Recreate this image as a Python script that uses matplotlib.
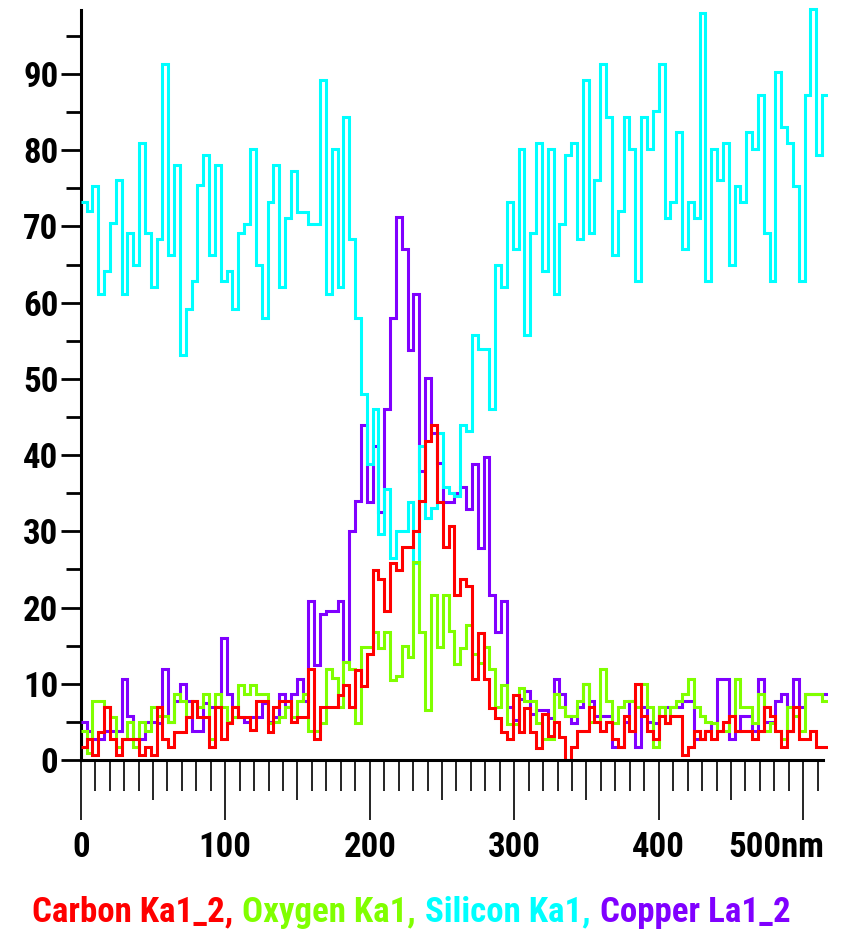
import numpy as np
import matplotlib
matplotlib.use("Agg")
import matplotlib.pyplot as plt
from matplotlib import font_manager
from matplotlib.font_manager import FontProperties
from matplotlib.transforms import ScaledTranslation

# ---------------- data (counts per 4.04 nm bin) ----------------
bin_nm = 4.04
carbon = [1.7, 2.8, 0.7, 3.7, 7.0, 2.8, 0.7, 2.8, 2.8, 2.8, 0.7, 1.7, 0.7, 7.0, 2.8, 1.7,
          3.7, 3.7, 5.7, 7.8, 5.7, 5.7, 1.7, 7.0, 2.8, 4.8, 7.0, 5.7, 5.7, 3.9, 7.8, 7.8,
          3.7, 7.0, 7.8, 7.8, 5.0, 5.7, 5.7, 11.9, 2.8, 7.0, 7.0, 7.0, 8.5, 9.8, 7.0, 11.8,
          9.7, 13.9, 24.9, 23.7, 19.6, 25.8, 24.9, 27.9, 27.9, 30.1, 34.0, 41.8, 44.0, 33.8, 27.9, 30.7,
          21.6, 23.7, 22.8, 10.6, 16.7, 10.6, 6.8, 5.5, 3.7, 2.7, 8.5, 3.7, 6.8, 3.7, 1.6, 6.0,
          3.2, 5.0, 3.0, 0.0, 1.7, 3.8, 3.8, 7.0, 5.0, 3.8, 5.0, 2.8, 1.7, 5.8, 3.8, 10.0,
          5.8, 3.8, 2.8, 5.8, 4.8, 5.8, 5.8, 0.7, 1.7, 3.8, 2.8, 3.8, 2.8, 3.8, 5.0, 5.8,
          3.8, 3.8, 3.8, 2.8, 3.8, 7.0, 5.8, 3.8, 1.7, 3.8, 7.0, 2.8, 2.8, 3.8, 1.7, 1.7]
oxygen = [3.8, 0.9, 7.8, 7.8, 7.0, 5.7, 1.7, 2.8, 5.0, 1.7, 5.0, 3.8, 7.0, 5.8, 5.8, 5.0,
          8.7, 7.8, 5.7, 7.8, 7.0, 8.7, 2.8, 8.7, 7.0, 5.0, 5.7, 9.8, 8.7, 9.8, 8.7, 8.7,
          4.8, 5.0, 5.7, 7.0, 5.7, 7.8, 8.7, 3.8, 3.8, 4.8, 11.9, 10.7, 7.0, 12.8, 12.0, 4.8,
          14.8, 14.8, 16.8, 14.7, 16.8, 10.5, 11.0, 15.0, 13.5, 26.0, 16.8, 6.5, 21.7, 14.8, 21.7, 16.9,
          12.6, 14.7, 17.7, 13.9, 12.7, 14.8, 12.0, 7.0, 9.8, 4.7, 4.7, 9.5, 7.8, 7.8, 4.8, 2.8,
          2.8, 8.7, 7.0, 5.8, 5.8, 7.8, 10.0, 5.0, 5.0, 11.9, 7.8, 4.8, 7.0, 7.8, 7.8, 7.0,
          10.0, 7.0, 1.7, 7.0, 4.8, 7.0, 7.8, 8.7, 10.6, 7.0, 5.8, 5.0, 4.8, 3.8, 3.8, 5.8,
          10.6, 7.0, 7.0, 4.8, 8.7, 3.8, 4.8, 3.8, 2.8, 7.0, 5.8, 3.8, 8.7, 8.7, 8.7, 7.8]
silicon = [73.2, 72.0, 75.3, 61.1, 64.2, 70.4, 76.1, 61.1, 69.1, 65.0, 81.0, 69.1, 62.1, 68.3, 91.3, 66.2,
           78.1, 53.1, 59.2, 62.9, 75.4, 79.4, 66.2, 78.1, 62.9, 64.2, 59.2, 69.1, 70.3, 80.2, 64.9, 58.0,
           73.2, 78.1, 62.1, 71.1, 77.3, 71.9, 71.9, 70.3, 70.3, 89.2, 61.1, 80.2, 62.1, 84.3, 68.3, 58.0,
           48.0, 38.9, 46.1, 29.7, 35.6, 26.5, 30.1, 30.1, 33.8, 25.8, 41.2, 31.7, 33.0, 42.9, 35.8, 35.0,
           34.6, 44.0, 43.1, 55.7, 53.9, 53.9, 46.1, 65.0, 62.1, 73.2, 67.0, 80.2, 55.7, 69.1, 81.0, 64.2,
           80.2, 61.1, 70.3, 79.4, 81.0, 68.3, 89.2, 69.1, 76.1, 91.3, 84.3, 66.2, 72.0, 84.3, 80.2, 62.9,
           84.3, 80.2, 85.2, 91.3, 71.1, 73.2, 82.4, 67.0, 73.2, 71.1, 98.0, 62.9, 80.2, 76.1, 81.0, 65.0,
           75.3, 73.2, 82.4, 80.2, 87.3, 69.1, 62.9, 90.2, 83.1, 81.0, 75.3, 62.9, 87.3, 98.5, 79.4, 87.3]
copper = [5.0, 3.8, 2.8, 2.8, 3.8, 3.8, 3.8, 10.6, 5.8, 2.8, 2.8, 5.0, 5.0, 4.8, 11.9, 5.0,
          7.8, 10.0, 7.8, 3.8, 3.8, 7.5, 7.0, 7.0, 16.0, 8.7, 7.0, 5.7, 5.0, 5.7, 5.7, 7.5,
          5.0, 5.7, 8.7, 7.0, 8.7, 10.6, 7.8, 20.9, 12.5, 19.2, 19.5, 19.5, 20.9, 12.9, 30.1, 34.0,
          44.0, 33.8, 41.2, 32.5, 46.1, 58.0, 71.2, 67.0, 53.8, 61.2, 37.9, 50.1, 42.9, 39.0, 33.8, 33.8,
          35.0, 35.8, 32.9, 38.9, 27.8, 39.7, 21.7, 16.8, 20.8, 7.0, 5.2, 8.0, 9.0, 6.0, 6.5, 6.5,
          5.5, 10.6, 8.7, 5.8, 4.8, 7.0, 10.0, 7.8, 5.8, 5.8, 5.8, 1.7, 1.7, 5.0, 7.8, 1.7,
          7.0, 5.0, 4.8, 7.0, 7.0, 7.0, 7.0, 7.8, 7.8, 2.8, 2.8, 3.8, 4.8, 10.6, 10.6, 2.8,
          3.8, 5.8, 5.8, 3.8, 10.6, 5.0, 5.0, 7.8, 8.7, 3.8, 10.6, 7.0, 8.7, 8.7, 8.7, 8.7]

series_names = ["Carbon Ka1_2", "Oxygen Ka1", "Silicon Ka1", "Copper La1_2"]
series_colors = ["#FF0000", "#80FF00", "#00FFFF", "#8000FF"]

y_major = [0, 10, 20, 30, 40, 50, 60, 70, 80, 90]
y_minor = [5, 15, 25, 35, 45, 55, 65, 75, 85, 95]
x_major = [0, 100, 200, 300, 400, 500]
x_labels = ["0", "100", "200", "300", "400", "500nm"]
x_mid = [50, 150, 250, 350, 450]
x_minor = [v for v in range(10, 520, 10) if v % 50 != 0]

# ---------------- font: prefer a bold, strongly narrowed face ----------------
def pick_font():
    fams = ["liberation sans narrow", "arial narrow", "roboto condensed", "noto sans", "open sans", "dejavu sans"]
    fl = font_manager.fontManager.ttflist
    for fam_key in fams:
        cands = []
        for f in fl:
            nm = f.name.lower()
            fn = f.fname.lower()
            key = fam_key.replace(" ", "")
            if not (nm.startswith(fam_key) or key in fn.replace("-", "").replace("_", "")):
                continue
            if "italic" in fn or "oblique" in fn or f.style != "normal":
                continue
            if not ("narrow" in fn or "condensed" in fn or "narrow" in nm or "condensed" in nm):
                continue
            if "extracondensed" in fn:
                rank_w = 0
            elif "semicondensed" in fn:
                rank_w = 2
            elif "ultracondensed" in fn:
                rank_w = 3
            else:
                rank_w = 1
            bold = ("bold" in fn and "semibold" not in fn and "extrabold" not in fn) or f.weight in (700, "bold")
            cands.append((0 if bold else 1, rank_w, f.fname))
        if cands:
            cands.sort()
            return cands[0][2]
    return None

fpath = pick_font()
def make_fp(size):
    if fpath:
        return FontProperties(fname=fpath, size=size)
    return FontProperties(family="Liberation Sans", weight="bold", size=size)

# ---------------- figure ----------------
W, H = 841, 938
fig = plt.figure(figsize=(W / 100, H / 100), dpi=100)
renderer = fig.canvas.get_renderer()

pieces = [name + ("," if i < len(series_names) - 1 else "") for i, name in enumerate(series_names)]
gap = 9
probe = make_fp(27)
tw = 0
for p in pieces:
    tp = fig.text(0, 0, p, fontproperties=probe)
    tw += tp.get_window_extent(renderer).width
    tp.remove()
FS = 1.09 * 27 * (698 - 3 * gap) / tw
FS = max(19, min(30, FS))
base_fp = make_fp(FS)

x0_px, x1_px = 80.7, 828.0
y0_px, y1_px = 760.0, 5.0
ax = fig.add_axes([x0_px / W, (H - y0_px) / H, (x1_px - x0_px) / W, (y0_px - y1_px) / H])
n = len(silicon)
edges = np.arange(n + 1) * bin_nm
ax.set_xlim(0, n * bin_nm)
ax.set_ylim(0, (y0_px - y1_px) / 7.622)

lw = 2.2
data = {"Carbon Ka1_2": carbon, "Oxygen Ka1": oxygen, "Silicon Ka1": silicon, "Copper La1_2": copper}
order = ["Copper La1_2", "Silicon Ka1", "Oxygen Ka1", "Carbon Ka1_2"]
for name in order:
    c = series_colors[series_names.index(name)]
    ax.stairs(data[name], edges, baseline=None, color=c, lw=lw, zorder=3)

for s in ["top", "right"]:
    ax.spines[s].set_visible(False)
ax.spines["left"].set_linewidth(2.2)
ax.spines["bottom"].set_linewidth(2.2)
ax.spines["left"].set_bounds(0, 98.4)
ax.spines["bottom"].set_bounds(0, 514)
ax.spines["bottom"].set_zorder(5)

ax.set_yticks(y_major)
ax.set_yticks(y_minor, minor=True)
ax.set_yticklabels([str(v) for v in y_major], fontproperties=base_fp)
ax.tick_params(axis="y", which="major", length=14.5, width=2.0, pad=1.5, direction="out")
ax.tick_params(axis="y", which="minor", length=11, width=2.0, direction="out")

ax.set_xticks(x_major)
ax.set_xticks(x_minor, minor=True)
ax.set_xticklabels(x_labels, fontproperties=base_fp)
ax.tick_params(axis="x", which="major", length=43, width=1.2, pad=8, direction="out")
ax.tick_params(axis="x", which="minor", length=22, width=1.2, direction="out")
last = ax.get_xticklabels()[-1]
last.set_horizontalalignment("right")
last.set_transform(last.get_transform() + ScaledTranslation(0.21, 0, fig.dpi_scale_trans))

sec = ax.secondary_xaxis("bottom")
sec.set_xticks(x_mid)
sec.set_xticklabels([])
sec.tick_params(axis="x", length=29, width=1.2, direction="out")
sec.spines["bottom"].set_visible(False)

# ---------------- coloured legend line ----------------
fig.canvas.draw()
texts = []
for txt, c in zip(pieces, series_colors):
    t = fig.text(0, (H - 912) / H, txt, color=c, ha="left", va="center", fontproperties=base_fp)
    texts.append(t)
widths = [t.get_window_extent(renderer).width for t in texts]
total = sum(widths) + gap * (len(widths) - 1)
start = max(4, 411 - total / 2)
xc = start
for t, w in zip(texts, widths):
    t.set_x(xc / W)
    xc += w + gap

fig.savefig("out.png", dpi=100)
